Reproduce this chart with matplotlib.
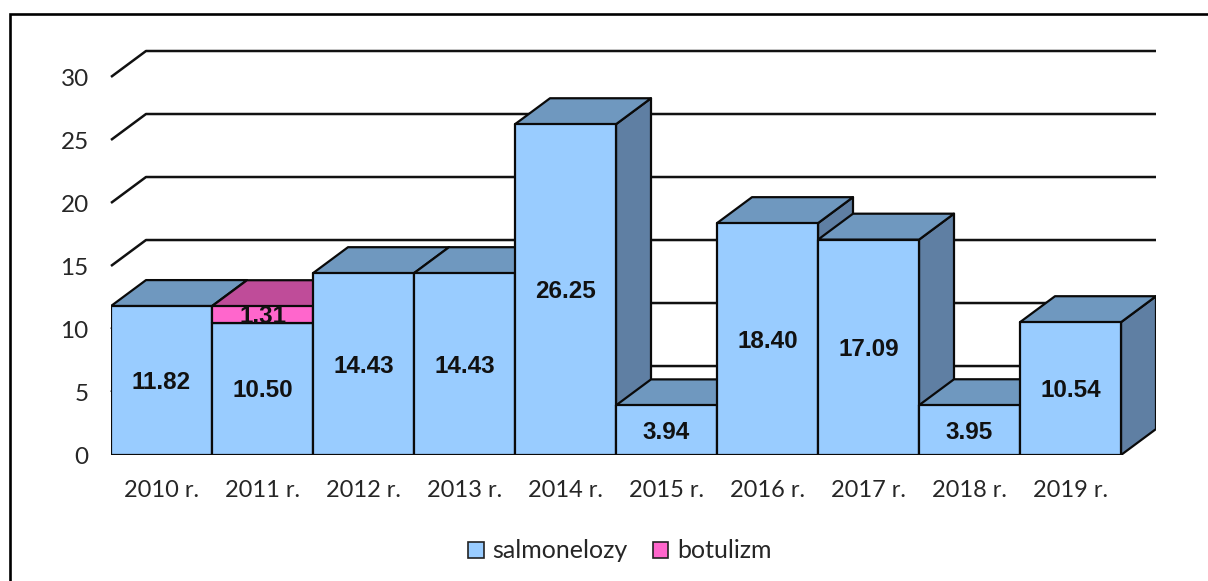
import matplotlib
matplotlib.use('Agg')
import matplotlib.pyplot as plt
from matplotlib.patches import Patch, Polygon
from matplotlib.transforms import ScaledTranslation

plt.rcParams['font.family'] = ['Lato', 'DejaVu Sans']

# values
years = ['2010 r.', '2011 r.', '2012 r.', '2013 r.', '2014 r.',
         '2015 r.', '2016 r.', '2017 r.', '2018 r.', '2019 r.']
salmonelozy = [11.82, 10.50, 14.43, 14.43, 26.25, 3.94, 18.40, 17.09, 3.95, 10.54]
botulizm = [0, 1.31, 0, 0, 0, 0, 0, 0, 0, 0]
y_ticks = [0, 5, 10, 15, 20, 25, 30]

W, H = 1208, 581
DX = 0.3465   # depth of the fake 3d, in category units
DY = 2.06     # depth in value units

BLUE = ('#99CCFF', '#6F98BF', '#5F7FA3')
PINK = ('#FF66CC', '#BF4C99', '#A34082')
EDGE = '#0a0a0a'


def box(ax, x, y0, y1, colors, z):
    # side, top and front of one block
    ax.add_patch(Polygon([(x + 1, y0), (x + 1 + DX, y0 + DY), (x + 1 + DX, y1 + DY), (x + 1, y1)],
                         fc=colors[2], ec=EDGE, lw=1.6, zorder=z, joinstyle='round'))
    ax.add_patch(Polygon([(x, y1), (x + DX, y1 + DY), (x + 1 + DX, y1 + DY), (x + 1, y1)],
                         fc=colors[1], ec=EDGE, lw=1.6, zorder=z, joinstyle='round'))
    ax.add_patch(Polygon([(x, y0), (x + 1, y0), (x + 1, y1), (x, y1)],
                         fc=colors[0], ec=EDGE, lw=1.6, zorder=z, joinstyle='round'))


def bar_label(ax, x, y, value):
    ax.annotate('%.2f' % value, (x, y), xytext=(0, -1.5), textcoords='offset points',
                ha='center', va='center', fontsize=17.5, fontweight='bold',
                family='Liberation Sans', color='#111111', zorder=20)


fig = plt.figure(figsize=(W / 100, H / 100), dpi=100)
ax = fig.add_axes([111 / W, 1 - 455 / H, (1156 - 111) / W, (455 - 51) / H])
ax.set_xlim(0, 10 + DX)
ax.set_ylim(0, 30 + DY)
for s in ax.spines.values():
    s.set_visible(False)

# gridlines on the walls
for t in y_ticks[1:]:
    ax.plot([0, DX, 10 + DX], [t, t + DY, t + DY], color='#111111', lw=1.8, zorder=1,
            clip_on=False, solid_joinstyle='round', solid_capstyle='butt')

# painted left to right so the next bar covers the previous side
for i in range(len(years)):
    z = 2 + i
    box(ax, i, 0, salmonelozy[i], BLUE, z)
    if botulizm[i] > 0:
        box(ax, i, salmonelozy[i], salmonelozy[i] + botulizm[i], PINK, z)

for i in range(len(years)):
    bar_label(ax, i + 0.5, salmonelozy[i] / 2, salmonelozy[i])
    if botulizm[i] > 0:
        bar_label(ax, i + 0.5, salmonelozy[i] + botulizm[i] / 2, botulizm[i])

ax.set_xticks([i + 0.5 for i in range(len(years))])
ax.set_xticklabels(years, fontsize=17, color='#262626')
ax.set_yticks(y_ticks)
ax.set_yticklabels([str(t) for t in y_ticks], fontsize=17.5, color='#262626')
ax.tick_params(axis='x', length=0, pad=18)
ax.tick_params(axis='y', length=0, pad=16)
nudge = ScaledTranslation(0, -0.5 / 72, fig.dpi_scale_trans)
for lbl in ax.get_yticklabels():
    lbl.set_transform(lbl.get_transform() + nudge)

handles = [Patch(fc=BLUE[0], ec='#222222', lw=1.2, label='salmonelozy'),
           Patch(fc=PINK[0], ec='#222222', lw=1.2, label='botulizm')]
fig.legend(handles=handles, ncol=2, frameon=False, fontsize=18, labelcolor='#262626',
           loc='center', bbox_to_anchor=(620 / W, 1 - 551 / H),
           handlelength=0.62, handleheight=0.62, handletextpad=0.35, columnspacing=1.0)

# outer frame of the picture, left and top only
fig.add_artist(plt.Line2D([10 / W, 10 / W, 1], [0, 1 - 14 / H, 1 - 14 / H],
                          color='black', lw=1.9, solid_joinstyle='miter'))

fig.savefig('out.png', dpi=100)
